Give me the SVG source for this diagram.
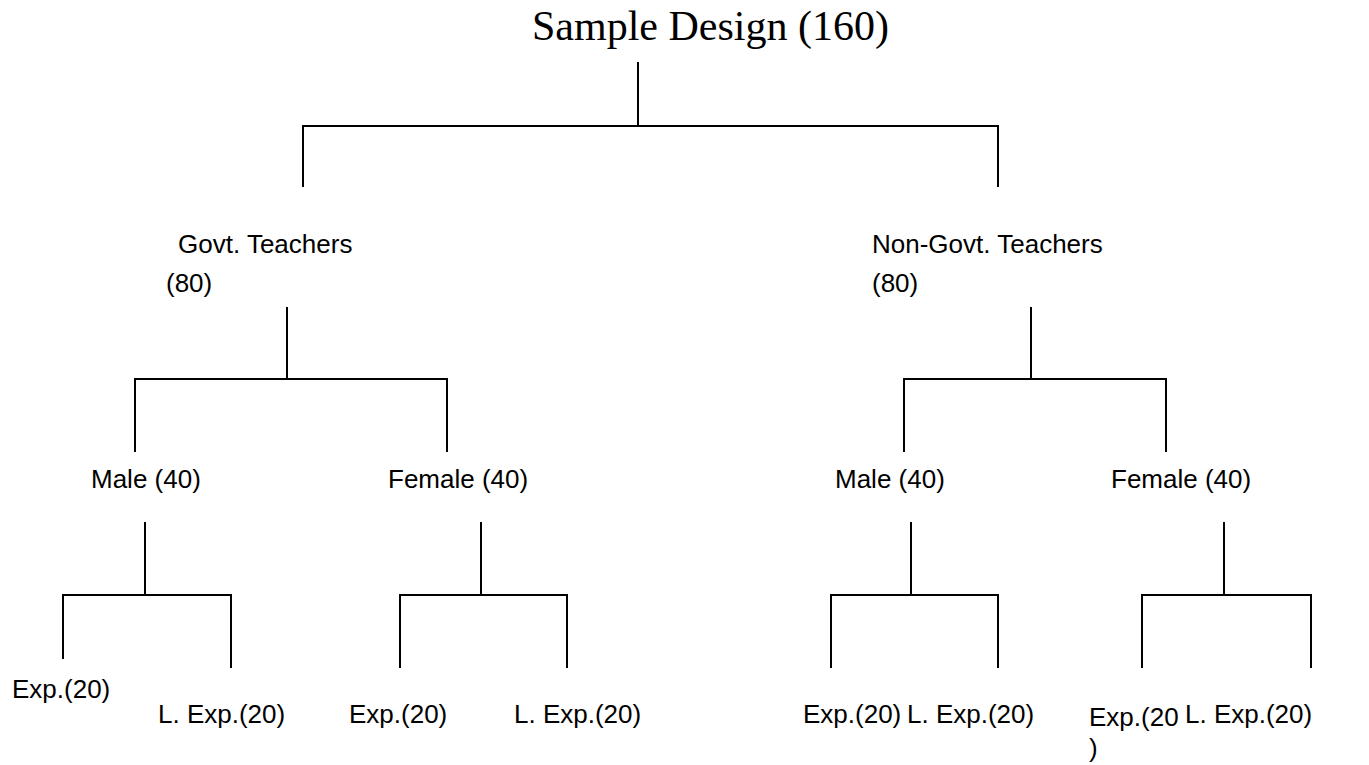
<svg xmlns="http://www.w3.org/2000/svg" width="1369" height="765" viewBox="0 0 1369 765">
<style>
.t{font-family:"Liberation Sans",Arial,sans-serif;font-size:26px;fill:#000}
.title{font-family:"Liberation Serif","Times New Roman",serif;font-size:42px;fill:#000}
.c line{stroke:#000;stroke-width:2;fill:none}
</style>
<rect width="1369" height="765" fill="#fff"/>
<g id="root"><text class="title" x="532" y="40">Sample Design (160)</text></g>
<g id="govt"><text class="t" x="178" y="253">Govt. Teachers</text><text class="t" x="166" y="292">(80)</text></g>
<g id="nongovt"><text class="t" x="872" y="253">Non-Govt. Teachers</text><text class="t" x="872" y="292">(80)</text></g>
<g id="g-male"><text class="t" x="91" y="488">Male (40)</text></g>
<g id="g-female"><text class="t" x="388" y="488">Female (40)</text></g>
<g id="n-male"><text class="t" x="835" y="488">Male (40)</text></g>
<g id="n-female"><text class="t" x="1111" y="488">Female (40)</text></g>
<g id="gm-exp"><text class="t" x="12" y="698">Exp.(20)</text></g>
<g id="gm-lexp"><text class="t" x="158" y="723">L. Exp.(20)</text></g>
<g id="gf-exp"><text class="t" x="349" y="723">Exp.(20)</text></g>
<g id="gf-lexp"><text class="t" x="514" y="723">L. Exp.(20)</text></g>
<g id="nm-exp"><text class="t" x="803" y="723">Exp.(20)</text></g>
<g id="nm-lexp"><text class="t" x="907" y="723">L. Exp.(20)</text></g>
<g id="nf-exp"><text class="t" x="1089" y="726">Exp.(20</text><text class="t" x="1089" y="757">)</text></g>
<g id="nf-lexp"><text class="t" x="1185" y="723">L. Exp.(20)</text></g>
<g id="connectors" class="c">
<line x1="638" y1="62" x2="638" y2="126"/>
<line x1="302" y1="126" x2="999" y2="126"/>
<line x1="303" y1="126" x2="303" y2="187"/>
<line x1="998" y1="126" x2="998" y2="187"/>
<line x1="287" y1="307" x2="287" y2="379"/>
<line x1="134" y1="379" x2="448" y2="379"/>
<line x1="135" y1="379" x2="135" y2="452"/>
<line x1="447" y1="379" x2="447" y2="452"/>
<line x1="1031" y1="307" x2="1031" y2="379"/>
<line x1="903" y1="379" x2="1167" y2="379"/>
<line x1="904" y1="379" x2="904" y2="452"/>
<line x1="1166" y1="379" x2="1166" y2="452"/>
<line x1="145" y1="522" x2="145" y2="595"/>
<line x1="62" y1="595" x2="232" y2="595"/>
<line x1="63" y1="595" x2="63" y2="659"/>
<line x1="231" y1="595" x2="231" y2="668"/>
<line x1="481" y1="522" x2="481" y2="595"/>
<line x1="399" y1="595" x2="568" y2="595"/>
<line x1="400" y1="595" x2="400" y2="668"/>
<line x1="567" y1="595" x2="567" y2="668"/>
<line x1="911" y1="522" x2="911" y2="595"/>
<line x1="830" y1="595" x2="999" y2="595"/>
<line x1="831" y1="595" x2="831" y2="668"/>
<line x1="998" y1="595" x2="998" y2="668"/>
<line x1="1224" y1="522" x2="1224" y2="595"/>
<line x1="1141" y1="595" x2="1312" y2="595"/>
<line x1="1142" y1="595" x2="1142" y2="668"/>
<line x1="1311" y1="595" x2="1311" y2="668"/>
</g>
</svg>
